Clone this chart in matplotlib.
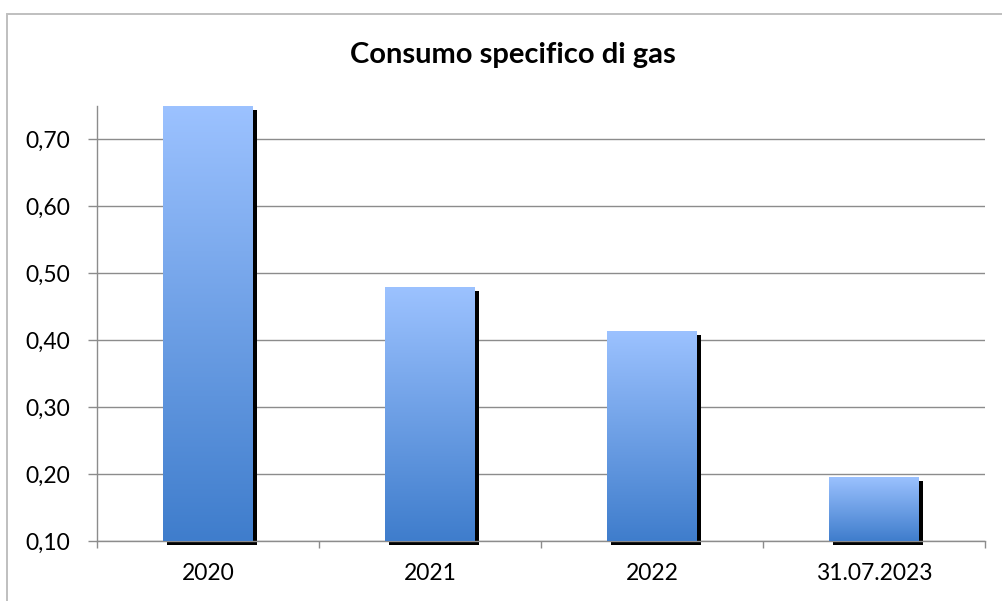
import numpy as np
import matplotlib
matplotlib.use("Agg")
import matplotlib.pyplot as plt
from matplotlib.patches import Rectangle
from matplotlib.colors import LinearSegmentedColormap
import matplotlib.transforms as mtransforms

categories = ["2020", "2021", "2022", "31.07.2023"]
values = [0.75, 0.479, 0.414, 0.196]
yticks = [0.10, 0.20, 0.30, 0.40, 0.50, 0.60, 0.70]
title = "Consumo specifico di gas"

plt.rcParams['font.family'] = ['Lato', 'DejaVu Sans']

fig = plt.figure(figsize=(10.03, 6.01), dpi=100)
W, H = 1003, 601
ax = fig.add_axes([97 / W, 1 - 541 / H, (985 - 97) / W, (541 - 106) / H])

ymin, ymax = 0.10, 0.75
ax.set_xlim(-0.5, len(categories) - 0.5)
ax.set_ylim(ymin, ymax)

cmap = LinearSegmentedColormap.from_list("g", ["#3F7DCC", "#9CC2FF"])
grad = np.linspace(0, 1, 256).reshape(-1, 1)
bw = 0.405
shadow = mtransforms.offset_copy(ax.transData, fig=fig, x=4, y=-4, units='dots')
for i, v in enumerate(values):
    sh = Rectangle((i - bw / 2, ymin), bw, v - ymin, facecolor='black', edgecolor='none',
                   transform=shadow, zorder=2, clip_on=False)
    ax.add_patch(sh)
    rect = Rectangle((i - bw / 2, ymin), bw, v - ymin, facecolor='none', edgecolor='none', zorder=3)
    ax.add_patch(rect)
    im = ax.imshow(grad, cmap=cmap, aspect='auto', origin='lower',
                   extent=(i - bw / 2, i + bw / 2, ymin, v), zorder=3)
    im.set_clip_path(rect)

ax.set_xlim(-0.5, len(categories) - 0.5)
ax.set_ylim(ymin, ymax)

ax.set_yticks(yticks)
ax.set_yticklabels([f"{t:.2f}".replace('.', ',') for t in yticks])
ax.yaxis.grid(True, color='#8C8C8C', linewidth=1)
ax.set_axisbelow(True)
ax.set_xticks(range(len(categories)))
ax.set_xticklabels(categories)
ax.set_xticks(np.arange(-0.5, len(categories), 1), minor=True)
ax.tick_params(axis='x', which='major', length=0, pad=16, labelsize=16.5)
ax.tick_params(axis='x', which='minor', length=5, color='#8C8C8C', width=1)
ax.tick_params(axis='y', length=6.5, color='#8C8C8C', width=1, pad=13, labelsize=16.5)
for s in ['top', 'right']:
    ax.spines[s].set_visible(False)
for s in ['left', 'bottom']:
    ax.spines[s].set_color('#8C8C8C')
    ax.spines[s].set_linewidth(1)

fig.text(513 / W, 1 - 55 / H, title, ha='center', va='center', fontsize=21, fontweight='bold')

border = Rectangle((7.5 / W, -0.01), 1.05, (1 - 14 / H) + 0.01, transform=fig.transFigure,
                   facecolor='none', edgecolor='#BFBFBF', linewidth=1.4)
fig.patches.append(border)

fig.savefig("out.png", dpi=100)
